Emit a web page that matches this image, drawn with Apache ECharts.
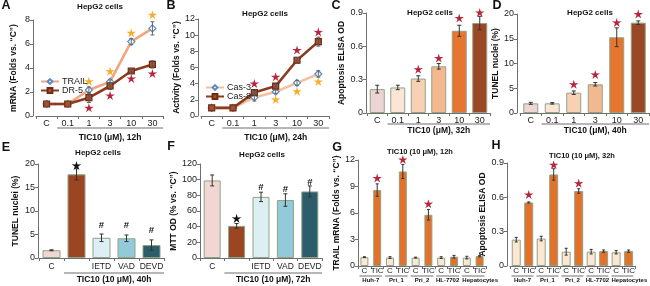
<!DOCTYPE html>
<html><head><meta charset="utf-8">
<script src="https://cdn.jsdelivr.net/npm/echarts@6/dist/echarts.min.js"></script>
<style>html,body{margin:0;padding:0;background:#fff}#c{width:650px;height:286px}</style>
</head><body><div id="c"></div>
<script>
// ---------------- data ----------------
const doseCats = ['C', '0.1', '1', '3', '10', '30'];
// A: HepG2 mRNA, 12h
const aTrail = [1, 1, 2.17, 2.86, 6.2, 7.3];
const aTrailErr = [0, 0, 0.25, 0.15, 0.25, 0.55];
const aDr5 = [1, 1, 1.53, 2.5, 3.75, 4.3];
const aDr5Err = [0, 0, 0.4, 0.3, 0.12, 0.3];
const aTrailStar = [null, null, 2.86, 3.7, 6.9, 8.4];
const aDr5Star = [null, null, 0.64, 1.67, 3.08, 3.5];
// B: caspase activity, 24h
const bCas3 = [1, 1, 2.3, 3.0, 4.1, 5.2];
const bCas3Err = [0, 0, 0.45, 0.2, 0.3, 0.4];
const bCas8 = [1, 1, 2.9, 3.7, 6.9, 9.2];
const bCas8Err = [0, 0, 0.2, 0.2, 0.35, 0.55];
const bCas8Star = [null, null, 3.96, 4.8, 8.1, 10.35];
const bCas3Star = [null, null, null, 2.0, 3.0, 4.2];
// C: apoptosis ELISA, 32h
const cElisa = [0.215, 0.23, 0.31, 0.42, 0.74, 0.81];
const cElisaErr = [0.035, 0.02, 0.025, 0.025, 0.05, 0.06];
const cStar = [null, null, 0.39, 0.49, 0.85, 0.9];
// D: TUNEL, 40h
const dTunel = [1.95, 1.95, 4.1, 5.8, 15.3, 18.25];
const dTunelErr = [0.2, 0.15, 0.35, 0.35, 1.9, 0.35];
const dStar = [null, null, 5.7, 7.7, 18.2, 19.9];
// E / F: inhibitors
const inhibCats = ['C', 'TIC10', 'IETD', 'VAD', 'DEVD'];
const inhibLabels = ['C', '', 'IETD', 'VAD', 'DEVD'];
const eTunel = [1.65, 17.8, 4.3, 4.2, 2.75];
const eTunelErr = [0.1, 1.2, 0.8, 0.7, 1.1];
const eMark = [null, 19.6, 7.0, 7.0, 5.8];
const eMarkText = ['', '*', '#', '#', '#'];
const fMtt = [99, 41, 78, 74, 85];
const fMttErr = [7, 3, 6, 8, 7];
const fMark = [null, 50, 90, 87, 97];
const fMarkText = ['', '*', '#', '#', '#'];
// G / H: cell lines
const cellLines = ['Huh-7', 'Pri_1', 'Pri_2', 'HL-7702', 'Hepatocytes'];
const pairLabels = ['C', 'TIC'];
const gC = [1.0, 0.95, 0.95, 0.95, 0.95];
const gCErr = [0.05, 0.1, 0.05, 0.1, 0.15];
const gTic = [8.6, 10.7, 5.8, 1.05, 1.12];
const gTicErr = [0.7, 0.8, 0.6, 0.15, 0.08];
const gStar = [9.9, 12.0, 7.0, null, null];
const hC = [0.23, 0.24, 0.125, 0.125, 0.12];
const hCErr = [0.02, 0.02, 0.03, 0.02, 0.015];
const hTic = [0.555, 0.80, 0.655, 0.13, 0.13];
const hTicErr = [0.005, 0.05, 0.02, 0.01, 0.01];
const hStar = [0.62, 0.88, 0.72, null, null];

// ---------------- styling ----------------
const FONT = '"Liberation Sans", Arial, Helvetica, sans-serif';
const AX = '#6f6f6f';
const RED = '#B8243C';
const GOLD = '#F4AE2A';
const BORDER = '#8EA485';
const doseColors = ['#EDD5D5', '#FBE5D6', '#F8D0B3', '#F3B88F', '#E6762F', '#9A4826'];
const inhibColors = ['#F1D6D4', '#9B4522', '#DCEFF3', '#92CADA', '#2B5D6B'];
const pairColors = ['#FCE7D3', '#E3712A'];

const grids = [
  {left: 36, top: 20, width: 127, height: 96},
  {left: 201, top: 19, width: 128, height: 97},
  {left: 367, top: 13, width: 123, height: 100},
  {left: 520, top: 14, width: 129, height: 99},
  {left: 39, top: 164, width: 125, height: 94},
  {left: 200, top: 164, width: 122, height: 94},
  {left: 358, top: 160, width: 128, height: 106},
  {left: 510, top: 163, width: 127, height: 103}
];

function interleave(a, b) { const r = []; a.forEach((v, i) => { r.push(v, b[i]); }); return r; }
const pairCats = [];
cellLines.forEach(c => { pairCats.push(c + ' C', c + ' TIC'); });
const pad = (arr) => { const r = []; arr.forEach(v => { r.push(null, v); }); return r; };

function yAx(gi, max, interval, name, gap, offset) {
  return {type: 'value', gridIndex: gi, min: 0, max: max, interval: interval, offset: offset,
    name: name, nameLocation: 'middle', nameGap: gap, nameRotate: 90,
    nameTextStyle: {fontFamily: FONT, fontSize: 8.5, fontWeight: 'bold', color: '#111'},
    axisLine: {show: true, lineStyle: {color: AX}},
    axisTick: {show: true, length: 3, lineStyle: {color: AX}},
    axisLabel: {fontFamily: FONT, fontSize: 9, color: '#222', margin: 3},
    splitLine: {show: false}};
}
function xAx(gi, data, fmt, fs, margin) {
  return {type: 'category', gridIndex: gi, data: data, boundaryGap: true,
    axisLine: {show: true, lineStyle: {color: AX}},
    axisTick: {show: true, length: 3, interval: 0, lineStyle: {color: AX}},
    axisLabel: {interval: 0, fontFamily: FONT, fontSize: fs, color: '#222', margin: margin,
      formatter: fmt}};
}
function groupAx(gi) {
  return {type: 'category', gridIndex: gi, data: cellLines, position: 'bottom', offset: 10,
    axisLine: {show: false}, axisTick: {show: false},
    axisLabel: {interval: 0, fontFamily: FONT, fontSize: 6, fontWeight: 'bold', color: '#111', margin: 1,
      formatter: (v, i) => i === cellLines.length - 1 ? '{s|' + v + '}' : v,
      rich: {s: {fontFamily: FONT, fontSize: 6, fontWeight: 'bold', color: '#111', padding: [0, 0, 0, 14]}}}};
}
function starPts(x, y, r) {
  const pts = [];
  for (let i = 0; i < 10; i++) {
    const a = -Math.PI / 2 + i * Math.PI / 5;
    const rr = i % 2 === 0 ? r : r * 0.36;
    pts.push([x + rr * Math.cos(a), y + rr * Math.sin(a)]);
  }
  return pts;
}
function errSeries(gi, vals, errs, color, cap) {
  const data = [];
  vals.forEach((v, i) => { if (errs[i] > 0) data.push([i, v - errs[i], v + errs[i]]); });
  return {type: 'custom', xAxisIndex: gi, yAxisIndex: gi, data: data, z: 5, silent: true,
    renderItem: function (p, api) {
      const a = api.coord([api.value(0), api.value(1)]);
      const b = api.coord([api.value(0), api.value(2)]);
      const st = {stroke: color, lineWidth: 1};
      return {type: 'group', children: [
        {type: 'line', shape: {x1: a[0], y1: a[1], x2: b[0], y2: b[1]}, style: st},
        {type: 'line', shape: {x1: a[0] - cap, y1: a[1], x2: a[0] + cap, y2: a[1]}, style: st},
        {type: 'line', shape: {x1: b[0] - cap, y1: b[1], x2: b[0] + cap, y2: b[1]}, style: st}
      ]};
    }};
}
function starSeries(gi, vals, color, r) {
  const data = [];
  vals.forEach((v, i) => { if (v != null) data.push([i, v]); });
  return {type: 'custom', xAxisIndex: gi, yAxisIndex: gi, data: data, z: 6, silent: true,
    renderItem: function (p, api) {
      const c = api.coord([api.value(0), api.value(1)]);
      return {type: 'polygon', shape: {points: starPts(c[0], c[1], r)}, style: {fill: color}};
    }};
}
function markSeries(gi, vals, texts) {
  const data = [];
  vals.forEach((v, i) => { if (v != null) data.push([i, v, i]); });
  return {type: 'custom', xAxisIndex: gi, yAxisIndex: gi, data: data, z: 6, silent: true,
    renderItem: function (p, api) {
      const c = api.coord([api.value(0), api.value(1)]);
      const t = texts[api.value(2)];
      if (t === '*') return {type: 'polygon', shape: {points: starPts(c[0], c[1], 5)}, style: {fill: '#111'}};
      return {type: 'text', style: {text: t, x: c[0], y: c[1], align: 'center', verticalAlign: 'middle',
        fontFamily: FONT, fontSize: 9.5, fontWeight: 'bold', fill: '#111'}};
    }};
}
function barSeries(gi, vals, colors, w) {
  return {type: 'bar', xAxisIndex: gi, yAxisIndex: gi, barWidth: w,
    data: vals.map((v, i) => ({value: v, itemStyle: {color: colors[i % colors.length]}})),
    itemStyle: {borderColor: BORDER, borderWidth: 1}, z: 2};
}
function lineSeries(gi, name, vals, lineColor, symbol, fill, border, size) {
  return {type: 'line', name: name, xAxisIndex: gi, yAxisIndex: gi, data: vals,
    symbol: symbol, symbolSize: size, showAllSymbol: true,
    lineStyle: {color: lineColor, width: 2.6},
    itemStyle: {color: fill, borderColor: border, borderWidth: 1.2}, z: 3};
}

const legendText = {fontFamily: FONT, fontSize: 9, color: '#222', padding: [0, 0, 0, -2]};
const option = {
  animation: false,
  textStyle: {fontFamily: FONT},
  grid: grids.map(g => Object.assign({containLabel: false}, g)),
  legend: [
    {left: 35, top: 72, orient: 'vertical', itemWidth: 18, itemHeight: 6, itemGap: 0, z: 10,
      data: ['TRAIL', 'DR-5'], textStyle: legendText},
    {left: 200, top: 78, orient: 'vertical', itemWidth: 18, itemHeight: 6, itemGap: 0, z: 10,
      data: ['Cas-3', 'Cas-8'], textStyle: legendText}
  ],
  xAxis: [
    xAx(0, doseCats, null, 9, 3),
    xAx(1, doseCats, null, 9, 3),
    xAx(2, doseCats, null, 9, 3),
    xAx(3, doseCats, null, 9, 3),
    xAx(4, inhibCats, (v, i) => inhibLabels[i], 8.5, 4),
    xAx(5, inhibCats, (v, i) => inhibLabels[i], 8.5, 4),
    xAx(6, pairCats, (v, i) => pairLabels[i % 2], 8, 1),
    xAx(7, pairCats, (v, i) => pairLabels[i % 2], 8, 1),
    groupAx(6),
    groupAx(7)
  ],
  yAxis: [
    yAx(0, 8, 2, 'mRNA (Folds vs. \u201cC\u201d)', 15, 3),
    yAx(1, 12, 2, 'Activity (Folds vs. \u201cC\u201d)', 13, 3),
    yAx(2, 0.9, 0.3, 'Apoptosis ELISA OD', 18, 1),
    yAx(3, 20, 5, 'TUNEL nuclei (%)', 11, 3),
    yAx(4, 20, 5, 'TUNEL nuclei (%)', 18, 1),
    yAx(5, 120, 20, 'MTT OD (% vs. \u201cC\u201d)', 17, 0),
    yAx(6, 12, 3, 'TRAIL mRNA (Folds vs. \u201cC\u201d)', 12, 0),
    yAx(7, 0.9, 0.3, 'Apoptosis ELISA OD', 9, 3)
  ],
  series: [
    // A
    lineSeries(0, 'TRAIL', aTrail, '#F2A57E', 'diamond', '#ffffff', '#5A8BC4', 7),
    lineSeries(0, 'DR-5', aDr5, '#8B3B1F', 'rect', '#A3522F', '#6E2A14', 6),
    errSeries(0, aTrail, aTrailErr, '#666', 2),
    errSeries(0, aDr5, aDr5Err, '#555', 2),
    starSeries(0, aTrailStar, GOLD, 5),
    starSeries(0, aDr5Star, RED, 5),
    // B
    lineSeries(1, 'Cas-3', bCas3, '#F5C19C', 'diamond', '#ffffff', '#5A8BC4', 7),
    lineSeries(1, 'Cas-8', bCas8, '#8B3B1F', 'rect', '#A3522F', '#6E2A14', 6),
    errSeries(1, bCas3, bCas3Err, '#666', 2),
    errSeries(1, bCas8, bCas8Err, '#555', 2),
    starSeries(1, bCas8Star, RED, 5),
    starSeries(1, bCas3Star, GOLD, 5),
    // C
    barSeries(2, cElisa, doseColors, 15),
    errSeries(2, cElisa, cElisaErr, '#333', 2),
    starSeries(2, cStar, RED, 5),
    // D
    barSeries(3, dTunel, doseColors, 15),
    errSeries(3, dTunel, dTunelErr, '#333', 2),
    starSeries(3, dStar, RED, 5),
    // E
    barSeries(4, eTunel, inhibColors, 18),
    errSeries(4, eTunel, eTunelErr, '#333', 2),
    markSeries(4, eMark, eMarkText),
    // F
    barSeries(5, fMtt, inhibColors, 17),
    errSeries(5, fMtt, fMttErr, '#333', 2),
    markSeries(5, fMark, fMarkText),
    // G
    barSeries(6, interleave(gC, gTic), pairColors, 8),
    errSeries(6, interleave(gC, gTic), interleave(gCErr, gTicErr), '#333', 1.5),
    starSeries(6, pad(gStar), RED, 5),
    // H
    barSeries(7, interleave(hC, hTic), pairColors, 9),
    errSeries(7, interleave(hC, hTic), interleave(hCErr, hTicErr), '#333', 1.5),
    starSeries(7, pad(hStar), RED, 5)
  ]
};

const chart = echarts.init(document.getElementById('c'), null, {renderer: 'canvas'});
chart.setOption(option);

// ---------- annotations (computed from the axes) ----------
const gfx = [];
function txt(s, x, y, size, weight, align) {
  gfx.push({type: 'text', x: x, y: y, silent: true, style: {text: s, fontFamily: FONT, fontSize: size,
    fontWeight: weight || 'bold', fill: '#111', align: align || 'center', verticalAlign: 'middle'}});
}
function line(x1, y1, x2, y2) {
  gfx.push({type: 'line', silent: true, shape: {x1: x1, y1: y1, x2: x2, y2: y2}, style: {stroke: AX, lineWidth: 1}});
}
function cx(ai, i) { return chart.convertToPixel({xAxisIndex: ai}, i); }
function yb(ai) { return chart.convertToPixel({yAxisIndex: ai}, 0); }
// bracket under treated categories
const brackets = [
  [0, 1, 6, 12, 22, 'TIC10 (\u03bcM), 12h'],
  [1, 1, 6, 12, 22, 'TIC10 (\u03bcM), 24h'],
  [2, 1, 6, 11, 18, 'TIC10 (\u03bcM), 32h'],
  [3, 1, 6, 11, 18, 'TIC10 (\u03bcM), 40h'],
  [4, 1, 5, 15, 22, 'TIC10 (10 \u03bcM), 40h'],
  [5, 1, 5, 15, 22, 'TIC10 (10 \u03bcM), 72h']
];
brackets.forEach(b => {
  const ai = b[0];
  const band = cx(ai, 1) - cx(ai, 0);
  const x1 = cx(ai, b[1]) - band / 2;
  const x2 = cx(ai, b[2] - 1) + band / 2;
  const y0 = yb(ai);
  line(x1, y0 + b[3], x2, y0 + b[3]);
  txt(b[5], (x1 + x2) / 2, y0 + b[4], 8.5, 'bold');
});
// pair underlines for G and H
[6, 7].forEach(ai => {
  const band = cx(ai, 1) - cx(ai, 0);
  const y0 = yb(ai);
  for (let k = 0; k < cellLines.length; k++) {
    line(cx(ai, 2 * k) - band / 2 + 1.5, y0 + 10, cx(ai, 2 * k + 1) + band / 2 - 1.5, y0 + 10);
  }
});
// titles
txt('HepG2 cells', 100, 7, 8, 'bold');
txt('HepG2 cells', 265, 14, 8, 'bold');
txt('HepG2 cells', 430, 13, 8, 'bold');
txt('HepG2 cells', 590, 13, 8, 'bold');
txt('HepG2 cells', 98, 153, 8, 'bold');
txt('HepG2 cells', 262, 155, 8, 'bold');
txt('TIC10 (10 \u03bcM), 12h', 420, 152, 7.5, 'bold');
txt('TIC10 (10 \u03bcM), 32h', 582, 156, 7.5, 'bold');
// panel letters
[['A', 6, 6], ['B', 171, 6], ['C', 336, 6], ['D', 497, 6],
 ['E', 6, 148], ['F', 171, 147], ['G', 337, 148], ['H', 496, 146]].forEach(l => txt(l[0], l[1], l[2], 12.5, 'bold'));
chart.setOption({graphic: gfx});
</script>
</body></html>
